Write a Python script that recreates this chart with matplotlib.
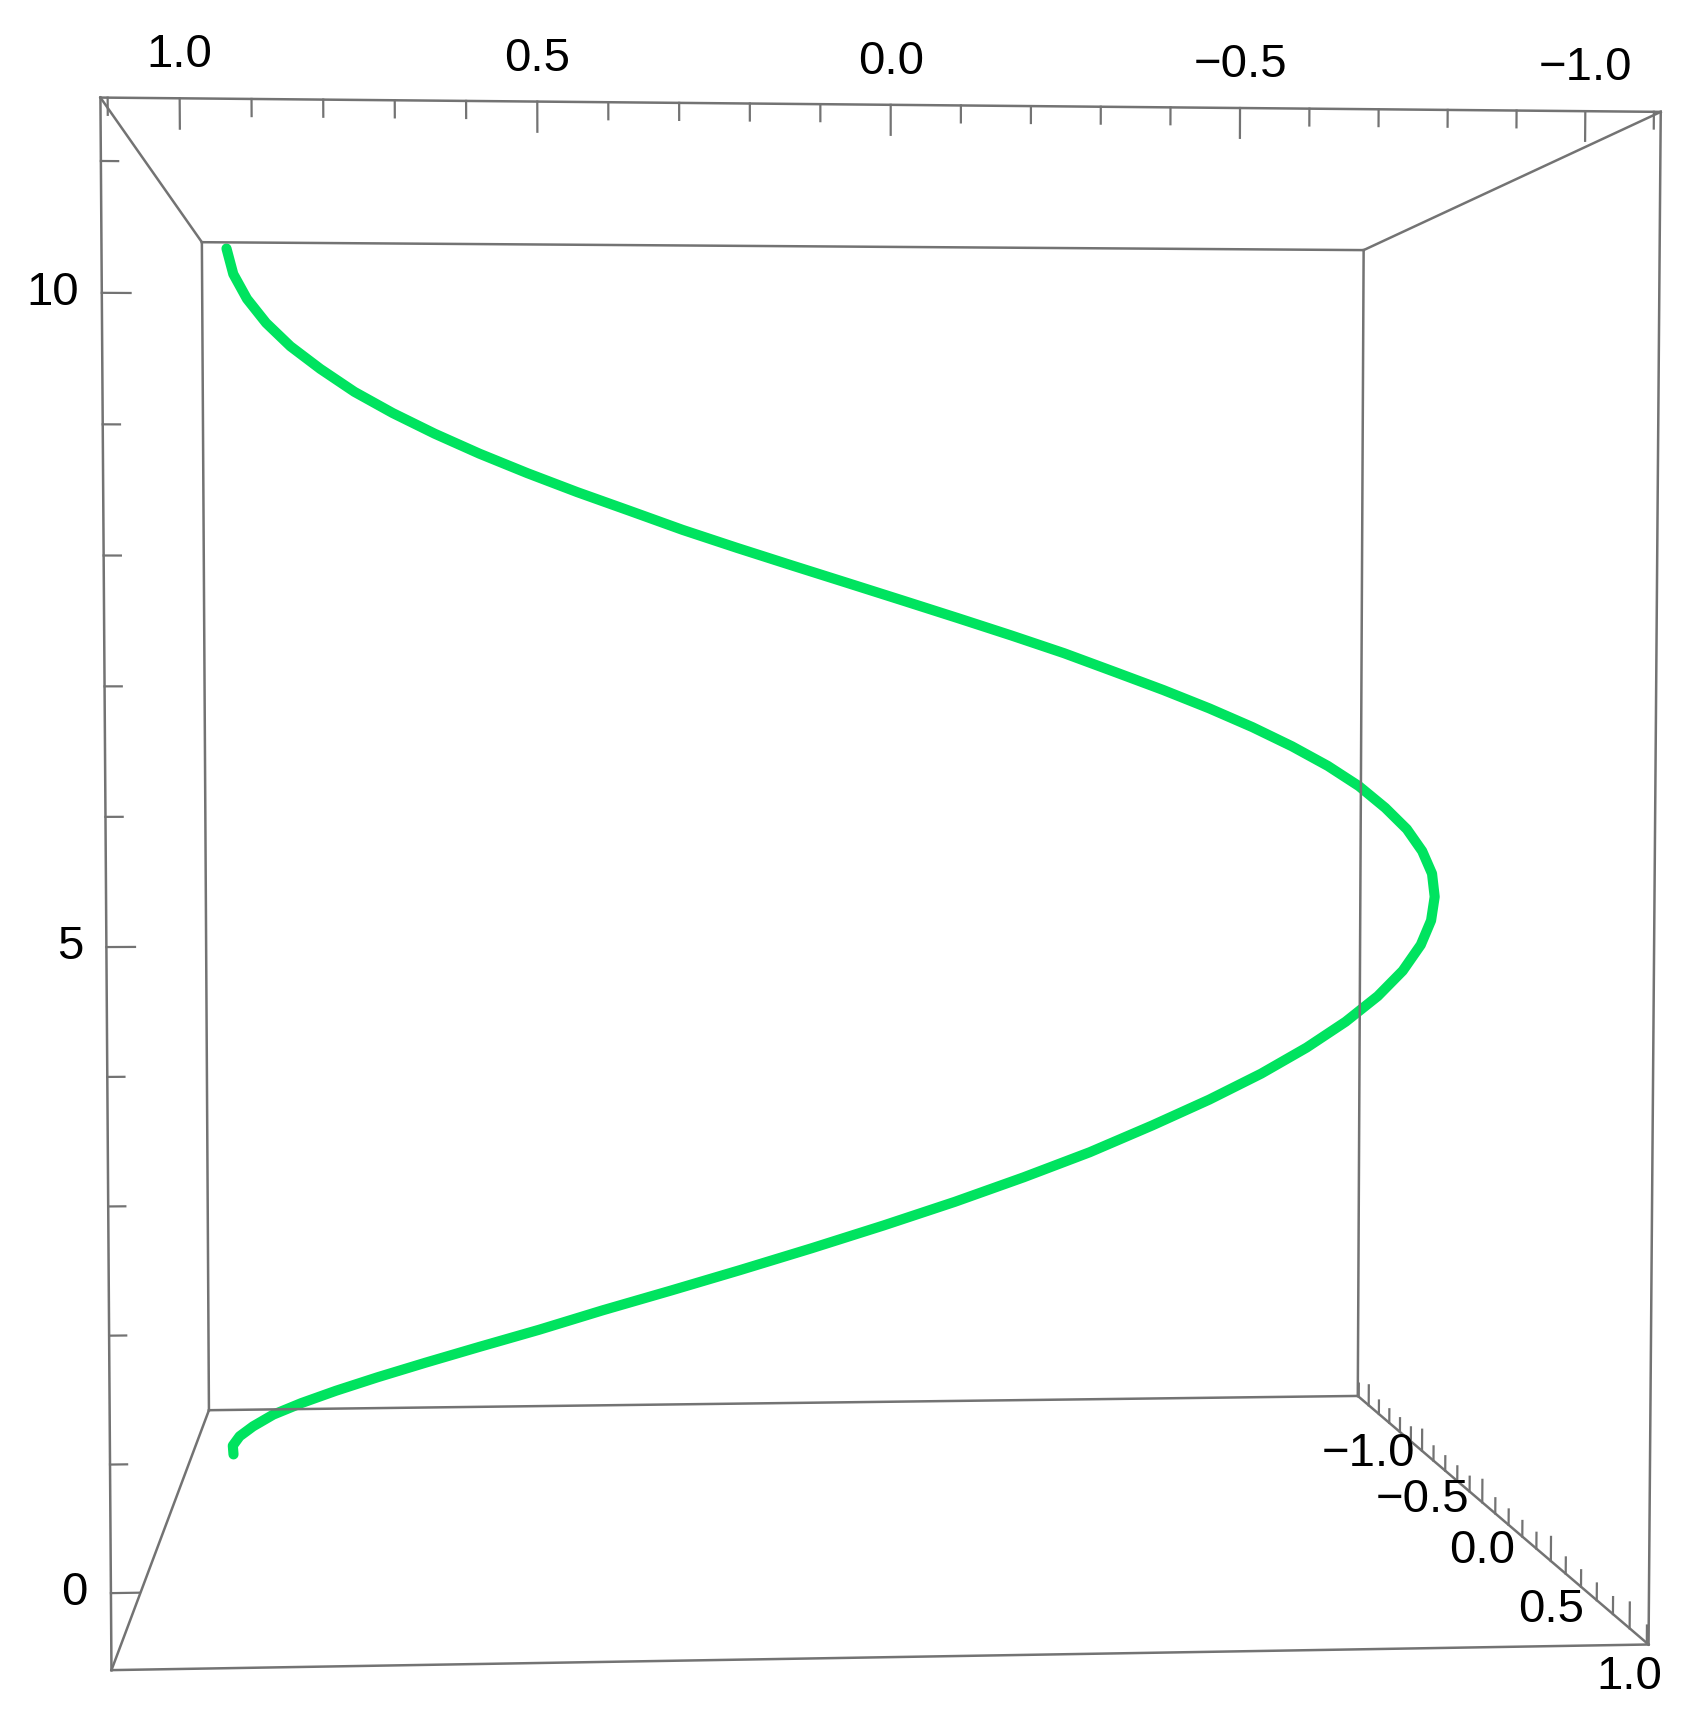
import matplotlib as mpl
import matplotlib.pyplot as plt
from matplotlib import transforms as mtransforms
from mpl_toolkits.mplot3d import proj3d
import numpy as np

plt.rcParams["font.family"] = ["Liberation Sans", "DejaVu Sans"]

# one turn of the green curve (6 degree steps)
curve_x = [1.0, 0.995, 0.978, 0.951, 0.914, 0.866, 0.809, 0.743, 0.669, 0.588,
           0.5, 0.407, 0.309, 0.208, 0.105, 0.0,
           -0.105, -0.208, -0.309, -0.407, -0.5, -0.588, -0.669, -0.743, -0.809,
           -0.866, -0.914, -0.951, -0.978, -0.995, -1.0,
           -0.995, -0.978, -0.951, -0.914, -0.866, -0.809, -0.743, -0.669, -0.588,
           -0.5, -0.407, -0.309, -0.208, -0.105, 0.0,
           0.105, 0.208, 0.309, 0.407, 0.5, 0.588, 0.669, 0.743, 0.809,
           0.866, 0.914, 0.951, 0.978, 0.995, 1.0]
curve_y = [0.0, 0.105, 0.208, 0.309, 0.407, 0.5, 0.588, 0.669, 0.743, 0.809,
           0.866, 0.914, 0.951, 0.978, 0.995, 1.0,
           0.995, 0.978, 0.951, 0.914, 0.866, 0.809, 0.743, 0.669, 0.588,
           0.5, 0.407, 0.309, 0.208, 0.105, 0.0,
           -0.105, -0.208, -0.309, -0.407, -0.5, -0.588, -0.669, -0.743, -0.809,
           -0.866, -0.914, -0.951, -0.978, -0.995, -1.0,
           -0.995, -0.978, -0.951, -0.914, -0.866, -0.809, -0.743, -0.669, -0.588,
           -0.5, -0.407, -0.309, -0.208, -0.105, 0.0]
curve_z = [0.0, 0.18, 0.36, 0.54, 0.73, 0.91, 1.09, 1.27, 1.45, 1.63,
           1.81, 2.0, 2.18, 2.36, 2.54, 2.72,
           2.9, 3.08, 3.26, 3.45, 3.63, 3.81, 3.99, 4.17, 4.35,
           4.53, 4.72, 4.9, 5.08, 5.26, 5.44,
           5.62, 5.8, 5.99, 6.17, 6.35, 6.53, 6.71, 6.89, 7.07,
           7.26, 7.44, 7.62, 7.8, 7.98, 8.16,
           8.34, 8.52, 8.71, 8.89, 9.07, 9.25, 9.43, 9.61, 9.79,
           9.98, 10.16, 10.34, 10.52, 10.7, 10.88]

x_lim = (-1.11, 1.11)
y_lim = (-1.11, 1.11)
z_lim = (-0.6, 11.48)

x_major = [-1.0, -0.5, 0.0, 0.5, 1.0]
y_major = [-1.0, -0.5, 0.0, 0.5, 1.0]
z_major = [0, 5, 10]
xy_minor = [-1.1, -0.9, -0.8, -0.7, -0.6, -0.4, -0.3, -0.2, -0.1,
            0.1, 0.2, 0.3, 0.4, 0.6, 0.7, 0.8, 0.9, 1.1]
z_minor = [1, 2, 3, 4, 6, 7, 8, 9, 11]

def fmt(v):
    return f"{v:.1f}".replace("-", "\u2212")

W, H = 1700, 1719
fig = plt.figure(figsize=(W / 100, H / 100), dpi=100)

# square 3d axes placed so the view centre lands where the reference has it
side = 1608
zoom = 1.3875
cx, cy = 832.0, H - 853.0
x0 = cx - side * 0.095 / 0.185
y0 = cy - side * 0.095 / 0.185
ax = fig.add_axes([x0 / W, y0 / H, side / W, side / H], projection="3d")
ax.set_proj_type("persp", focal_length=0.3747 * zoom)
ax.view_init(elev=2.5, azim=85.7)
ax.set_box_aspect((1, 1, 1), zoom=zoom)
ax.set_axis_off()
ax.computed_zorder = False

green = "#00e35f"
box_c = "#737373"

ax.plot(curve_x, curve_y, curve_z, color=green, lw=7.3,
        solid_capstyle="round", solid_joinstyle="round", zorder=2, clip_on=False)

# bounding box
xa, xb = x_lim
ya, yb = y_lim
za, zb = z_lim
box_kw = dict(color=box_c, lw=1.8, zorder=3, clip_on=False)
for y_ in (ya, yb):
    for z_ in (za, zb):
        ax.plot([xa, xb], [y_, y_], [z_, z_], **box_kw)
for x_ in (xa, xb):
    for z_ in (za, zb):
        ax.plot([x_, x_], [ya, yb], [z_, z_], **box_kw)
for x_ in (xa, xb):
    for y_ in (ya, yb):
        ax.plot([x_, x_], [y_, y_], [za, zb], **box_kw)

tick_kw = dict(color=box_c, lw=1.6, zorder=3, clip_on=False)

# x ticks on the top front edge, pointing down
for v in x_major + xy_minor:
    L = 0.23 if v in x_major else 0.13
    ax.plot([v, v], [yb, yb], [zb, zb - L], **tick_kw)
# z ticks on the left front edge, pointing in
for v in z_major + z_minor:
    L = 0.04 if v in z_major else 0.024
    ax.plot([xb, xb - L], [yb, yb], [v, v], **tick_kw)
# depth ticks on the lower right edge, pointing up
for v in y_major + xy_minor:
    L = 0.21 if v in y_major else 0.14
    ax.plot([xa, xa], [v, v], [za, za + L], **tick_kw)

ax.set_xlim(x_lim)
ax.set_ylim(y_lim)
ax.set_zlim(z_lim)

# tick labels: project the anchor on the edge, then shift in pixels
M = ax.get_proj()
fs = 34

def put(x, y, z, s, dx, dy, **kw):
    px, py, _ = proj3d.proj_transform(x, y, z, M)
    tr = mtransforms.offset_copy(ax.transData, fig=fig, x=dx, y=dy, units="dots")
    ax.text2D(float(px), float(py), s, transform=tr, fontsize=fs, **kw)

for v in x_major:
    put(v, yb, zb, fmt(v), 0, 43, ha="center", va="center")
for v in z_major:
    put(xb, yb, v, str(v), -23, 0, ha="right", va="center")
for v in y_major:
    put(xa, v, za, fmt(v), 0, -49, ha="center", va="center")

fig.savefig("out.png", dpi=100, facecolor="white")
